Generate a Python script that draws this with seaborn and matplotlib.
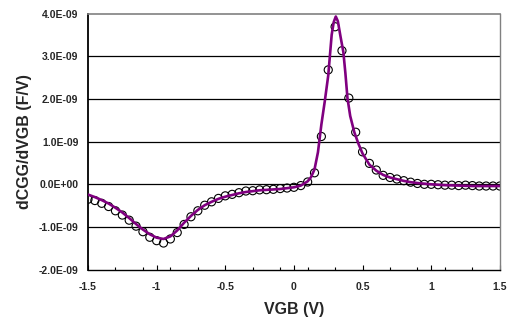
import matplotlib
matplotlib.use("Agg")
import matplotlib.pyplot as plt
import matplotlib.ticker as mticker
import seaborn as sns
import pandas as pd

# Measured points (open circles), VGB in V, dCGG/dVGB in 1e-9 F/V
meas_vgb = [-1.5, -1.45, -1.4, -1.35, -1.3, -1.25, -1.2, -1.15, -1.1, -1.05,
            -1.0, -0.95, -0.9, -0.85, -0.8, -0.75, -0.7, -0.65, -0.6, -0.55,
            -0.5, -0.45, -0.4, -0.35, -0.3, -0.25, -0.2, -0.15, -0.1, -0.05,
            0.0, 0.05, 0.1, 0.15, 0.2, 0.25, 0.3, 0.35, 0.4, 0.45,
            0.5, 0.55, 0.6, 0.65, 0.7, 0.75, 0.8, 0.85, 0.9, 0.95,
            1.0, 1.05, 1.1, 1.15, 1.2, 1.25, 1.3, 1.35, 1.4, 1.45, 1.5]
meas_val = [-0.35, -0.38, -0.445, -0.52, -0.62, -0.72, -0.84, -0.98, -1.11, -1.24,
            -1.32, -1.375, -1.28, -1.13, -0.94, -0.76, -0.62, -0.49, -0.41, -0.33,
            -0.27, -0.235, -0.196, -0.157, -0.15, -0.13, -0.126, -0.117, -0.10, -0.087,
            -0.07, -0.03, 0.054, 0.27, 1.12, 2.68, 3.69, 3.13, 2.02, 1.22,
            0.76, 0.49, 0.335, 0.21, 0.16, 0.124, 0.085, 0.05, 0.02, 0.0,
            0.0, -0.01, -0.02, -0.02, -0.03, -0.02, -0.03, -0.04, -0.04, -0.04, -0.04]

# Model curve (purple line)
model_vgb = [-1.5, -1.45, -1.4, -1.35, -1.3, -1.25, -1.2, -1.15, -1.1, -1.05,
             -1.0, -0.95, -0.9, -0.85, -0.8, -0.75, -0.7, -0.65, -0.6, -0.55,
             -0.5, -0.45, -0.4, -0.35, -0.3, -0.25, -0.2, -0.15, -0.1, -0.05,
             0.0, 0.05, 0.1, 0.125, 0.15, 0.175, 0.2, 0.225, 0.25, 0.275,
             0.29, 0.305, 0.32, 0.34, 0.36, 0.375, 0.39, 0.41, 0.44, 0.47,
             0.5, 0.55, 0.6, 0.65, 0.7, 0.75, 0.8, 0.85, 0.9, 1.0,
             1.1, 1.2, 1.3, 1.4, 1.5]
model_val = [-0.24, -0.30, -0.37, -0.45, -0.55, -0.66, -0.79, -0.93, -1.06, -1.17,
             -1.25, -1.28, -1.22, -1.08, -0.90, -0.74, -0.60, -0.49, -0.41, -0.34,
             -0.29, -0.25, -0.21, -0.18, -0.16, -0.14, -0.13, -0.12, -0.11, -0.09,
             -0.07, -0.03, 0.07, 0.17, 0.35, 0.75, 1.40, 1.95, 2.55, 3.50,
             3.80, 3.93, 3.82, 3.45, 3.10, 2.60, 2.02, 1.60, 1.22, 0.95,
             0.72, 0.46, 0.32, 0.22, 0.16, 0.12, 0.08, 0.05, 0.03, 0.0,
             -0.02, -0.03, -0.04, -0.04, -0.04]

x_major = [-1.5, -1.0, -0.5, 0.0, 0.5, 1.0, 1.5]
x_minor = [-1.3, -1.1, -0.9, -0.7, -0.5, -0.3, -0.1, 0.1, 0.3, 0.5, 0.7, 0.9, 1.1, 1.3]
y_ticks = [-2e-9, -1e-9, 0.0, 1e-9, 2e-9, 3e-9, 4e-9]

SCALE = 1e-9
df_meas = pd.DataFrame({"VGB": meas_vgb, "val": [v * SCALE for v in meas_val]})
df_model = pd.DataFrame({"VGB": model_vgb, "val": [v * SCALE for v in model_val]})

sns.set_style("white")
plt.rcParams["font.family"] = ["Liberation Sans", "DejaVu Sans"]
plt.rcParams["font.weight"] = "bold"

fig = plt.figure(figsize=(5.09, 3.22), dpi=100)
ax = fig.add_axes([0.1729, 0.1624, 0.8091, 0.7956])

for yv in y_ticks[1:-1]:
    ax.axhline(yv, color="black", lw=0.9, zorder=1)

sns.scatterplot(data=df_meas, x="VGB", y="val", ax=ax, marker="o", s=34,
                facecolor="none", edgecolor="black", linewidth=0.8, zorder=2)
sns.lineplot(data=df_model, x="VGB", y="val", ax=ax, color="#800080",
             linewidth=1.9, zorder=3, sort=False)

ax.set_xlim(-1.5, 1.5)
ax.set_ylim(-2e-9, 4e-9)
ax.xaxis.set_major_locator(mticker.FixedLocator(x_major))
ax.xaxis.set_minor_locator(mticker.FixedLocator(x_minor))
ax.xaxis.set_major_formatter(mticker.FuncFormatter(lambda v, p: f"{v:g}"))
ax.yaxis.set_major_locator(mticker.FixedLocator(y_ticks))
ax.yaxis.set_major_formatter(mticker.FuncFormatter(lambda v, p: f"{v:.1E}"))

ax.tick_params(axis="x", which="major", direction="in", length=3.5, width=0.8,
               color="black", labelsize=7.5, pad=9, bottom=True)
ax.tick_params(axis="x", which="minor", direction="in", length=2.5, width=0.8,
               color="black", bottom=True)
ax.tick_params(axis="y", length=0, labelsize=7.5, pad=7)
for lab in ax.get_xticklabels() + ax.get_yticklabels():
    lab.set_fontweight("bold")

ax.spines["left"].set_color("black")
ax.spines["left"].set_linewidth(1.3)
ax.spines["bottom"].set_color("black")
ax.spines["bottom"].set_linewidth(1.0)
ax.spines["top"].set_color("#808080")
ax.spines["top"].set_linewidth(1.2)
ax.spines["right"].set_color("#808080")
ax.spines["right"].set_linewidth(1.0)
for s in ax.spines.values():
    s.set_visible(True)

ax.set_xlabel("VGB (V)", fontsize=11.5, fontweight="bold", labelpad=7)
ax.set_ylabel("dCGG/dVGB (F/V)", fontsize=11.5, fontweight="bold", labelpad=5)

fig.savefig("out.png", dpi=100)
